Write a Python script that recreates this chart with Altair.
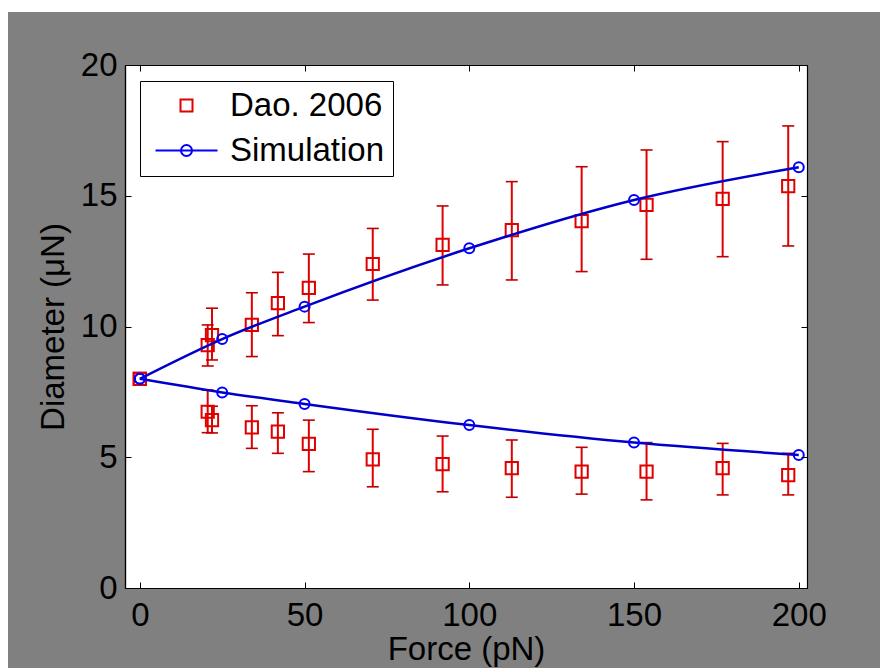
import altair as alt
import pandas as pd

# ---------------- data ----------------
dao_force = [0, 20.6, 21.9, 34.0, 41.9, 51.3, 70.7, 91.9, 112.9, 134.1, 153.8, 176.9, 196.8]
dao_upper = [8.0, 9.29, 9.67, 10.06, 10.89, 11.48, 12.39, 13.12, 13.69, 14.03, 14.65, 14.88, 15.37]
dao_upper_lo = [8.0, 8.49, 8.72, 8.85, 9.65, 10.15, 11.01, 11.59, 11.78, 12.10, 12.57, 12.67, 13.08]
dao_upper_hi = [8.0, 10.06, 10.70, 11.29, 12.07, 12.77, 13.75, 14.61, 15.54, 16.11, 16.75, 17.07, 17.67]
dao_lower = [8.0, 6.74, 6.42, 6.14, 5.98, 5.51, 4.92, 4.74, 4.58, 4.45, 4.45, 4.58, 4.32]
dao_lower_lo = [8.0, 5.94, 5.93, 5.34, 5.15, 4.45, 3.87, 3.68, 3.47, 3.59, 3.37, 3.56, 3.56]
dao_lower_hi = [8.0, 7.57, 6.95, 6.97, 6.70, 6.42, 6.07, 5.81, 5.66, 5.38, 5.56, 5.53, 5.15]

sim_force = [0, 25, 50, 100, 150, 200]
sim_upper = [8.0, 9.52, 10.76, 12.99, 14.84, 16.09]
sim_lower = [8.0, 7.48, 7.04, 6.23, 5.56, 5.09]

series_names = ["Dao. 2006", "Simulation"]
x_ticks = [0, 50, 100, 150, 200]
y_ticks = [0, 5, 10, 15, 20]

# ---------------- tables ----------------
dao = pd.concat([
    pd.DataFrame({"force": dao_force, "d": dao_upper, "lo": dao_upper_lo, "hi": dao_upper_hi, "branch": "upper"}),
    pd.DataFrame({"force": dao_force, "d": dao_lower, "lo": dao_lower_lo, "hi": dao_lower_hi, "branch": "lower"}),
], ignore_index=True)
dao_err = dao[dao["hi"] > dao["lo"]]
sim = pd.concat([
    pd.DataFrame({"force": sim_force, "d": sim_upper, "branch": "upper"}),
    pd.DataFrame({"force": sim_force, "d": sim_lower, "branch": "lower"}),
], ignore_index=True)
leg = pd.DataFrame({"series": series_names, "force": [0, 0], "d": [8.0, 8.0]})
one = pd.DataFrame({"a": [0]})

W, H = 682, 523
PAD_L, PAD_T, PAD_R, PAD_B = 125, 65, 73, 80
FONT = "Liberation Sans"
FS = 33
GRAY = "#808080"
RED = "#e00000"
CAP = "#c00000"
BLUE_LINE = "#0000c8"
BLUE = "#0000ff"

xs = alt.Scale(domain=[-4.5, 202.5], nice=False, zero=False)
ys = alt.Scale(domain=[0, 20], nice=False, zero=False)

common_axis = dict(grid=False, zindex=1, domainColor="black", domainWidth=1.2,
                   tickColor="black", tickWidth=1)

# main labelled axes (no ticks)
x_main = alt.Axis(orient="bottom", values=x_ticks, tickSize=0, labelPadding=11,
                  labelFont=FONT, labelFontSize=FS, labelColor="black", labelFlush=False,
                  title="Force (pN)", titleFont=FONT, titleFontSize=FS, titleFontWeight="normal",
                  titleColor="black", titlePadding=1, **common_axis)
y_main = alt.Axis(orient="left", values=y_ticks, tickSize=0, labelPadding=8,
                  labelFont=FONT, labelFontSize=FS, labelColor="black",
                  title="Diameter (μN)", titleFont=FONT, titleFontSize=FS, titleFontWeight="normal",
                  titleColor="black", titlePadding=10, **common_axis)
# inward ticks, bottom & left edges
x_in_bottom = alt.Axis(orient="top", offset=-H, values=x_ticks, tickSize=6, labels=False,
                       title=None, **common_axis)
y_in_left = alt.Axis(orient="right", offset=-W, values=y_ticks, tickSize=6, labels=False,
                     title=None, **common_axis)
# inward ticks, top & right edges
x_in_top = alt.Axis(orient="bottom", offset=-H, values=x_ticks, tickSize=6, labels=False,
                    title=None, **common_axis)
y_in_right = alt.Axis(orient="left", offset=-W, values=y_ticks, tickSize=6, labels=False,
                      title=None, **common_axis)

# ---------------- frame ----------------
bg = alt.Chart(one).mark_rect(color=GRAY).encode(
    x=alt.value(-PAD_L + 8), x2=alt.value(W + PAD_R),
    y=alt.value(-PAD_T + 12), y2=alt.value(H + PAD_B))
plot_bg = alt.Chart(one).mark_rect(color="white").encode(
    x=alt.value(0), x2=alt.value(W), y=alt.value(0), y2=alt.value(H))

# ---------------- error bars ----------------
err = alt.Chart(dao_err).mark_rule(color=RED, strokeWidth=2).encode(
    x=alt.X("force:Q", scale=xs, axis=x_main),
    y=alt.Y("lo:Q", scale=ys, axis=y_main),
    y2="hi:Q")
cap_lo = alt.Chart(dao_err).mark_rule(color=CAP, strokeWidth=1.6, xOffset=-6, x2Offset=6).encode(
    x=alt.X("force:Q", scale=xs, axis=x_in_bottom),
    x2="force:Q",
    y=alt.Y("lo:Q", scale=ys, axis=y_in_left))
cap_hi = alt.Chart(dao_err).mark_rule(color=CAP, strokeWidth=1.6, xOffset=-6, x2Offset=6).encode(
    x=alt.X("force:Q", scale=xs, axis=x_in_top),
    x2="force:Q",
    y=alt.Y("hi:Q", scale=ys, axis=y_in_right))

squares = alt.Chart(dao).mark_point(shape="square", filled=False, size=150, strokeWidth=2,
                                    color=RED, opacity=1).encode(
    x=alt.X("force:Q", scale=xs, axis=None),
    y=alt.Y("d:Q", scale=ys, axis=None))

lines = alt.Chart(sim).mark_line(color=BLUE_LINE, strokeWidth=2.5, interpolate="monotone").encode(
    x=alt.X("force:Q", scale=xs, axis=None),
    y=alt.Y("d:Q", scale=ys, axis=None),
    detail="branch:N")
circles = alt.Chart(sim).mark_point(shape="circle", filled=False, size=100, strokeWidth=2,
                                    color=BLUE, opacity=1).encode(
    x=alt.X("force:Q", scale=xs, axis=None),
    y=alt.Y("d:Q", scale=ys, axis=None))

# ---------------- legend ----------------
sq_path = "M-0.6,-0.6L0.6,-0.6L0.6,0.6L-0.6,0.6Z"
sim_path = ("M-3.1,0L3.1,0M0.55,0A0.55,0.55,0,1,1,-0.55,0A0.55,0.55,0,1,1,0.55,0")
leg_kw = dict(orient="none", legendX=15, legendY=16, title=None,
              labelFont=FONT, labelFontSize=FS, labelColor="black", labelLimit=400,
              symbolSize=400, symbolStrokeWidth=2, symbolOffset=22, labelOffset=27,
              rowPadding=11, padding=8, fillColor="white", strokeColor="black",
              symbolOpacity=1, symbolFillColor="transparent")
legend_layer = alt.Chart(leg).mark_point(filled=False, opacity=0).encode(
    x=alt.X("force:Q", scale=xs, axis=None),
    y=alt.Y("d:Q", scale=ys, axis=None),
    color=alt.Color("series:N", scale=alt.Scale(domain=series_names, range=[RED, BLUE]),
                    legend=alt.Legend(**leg_kw)),
    shape=alt.Shape("series:N", scale=alt.Scale(domain=series_names, range=[sq_path, sim_path]),
                    legend=alt.Legend(**leg_kw)))

chart = alt.layer(bg, plot_bg, err, cap_lo, cap_hi, squares, lines, circles, legend_layer).resolve_axis(
    x="independent", y="independent"
).properties(
    width=W, height=H,
    padding={"left": PAD_L, "top": PAD_T, "right": PAD_R, "bottom": PAD_B},
    autosize=alt.AutoSizeParams(type="none"),
    background="white",
).configure_view(stroke=None)

chart.save("out.html", embed_options={"renderer": "svg", "actions": False})
